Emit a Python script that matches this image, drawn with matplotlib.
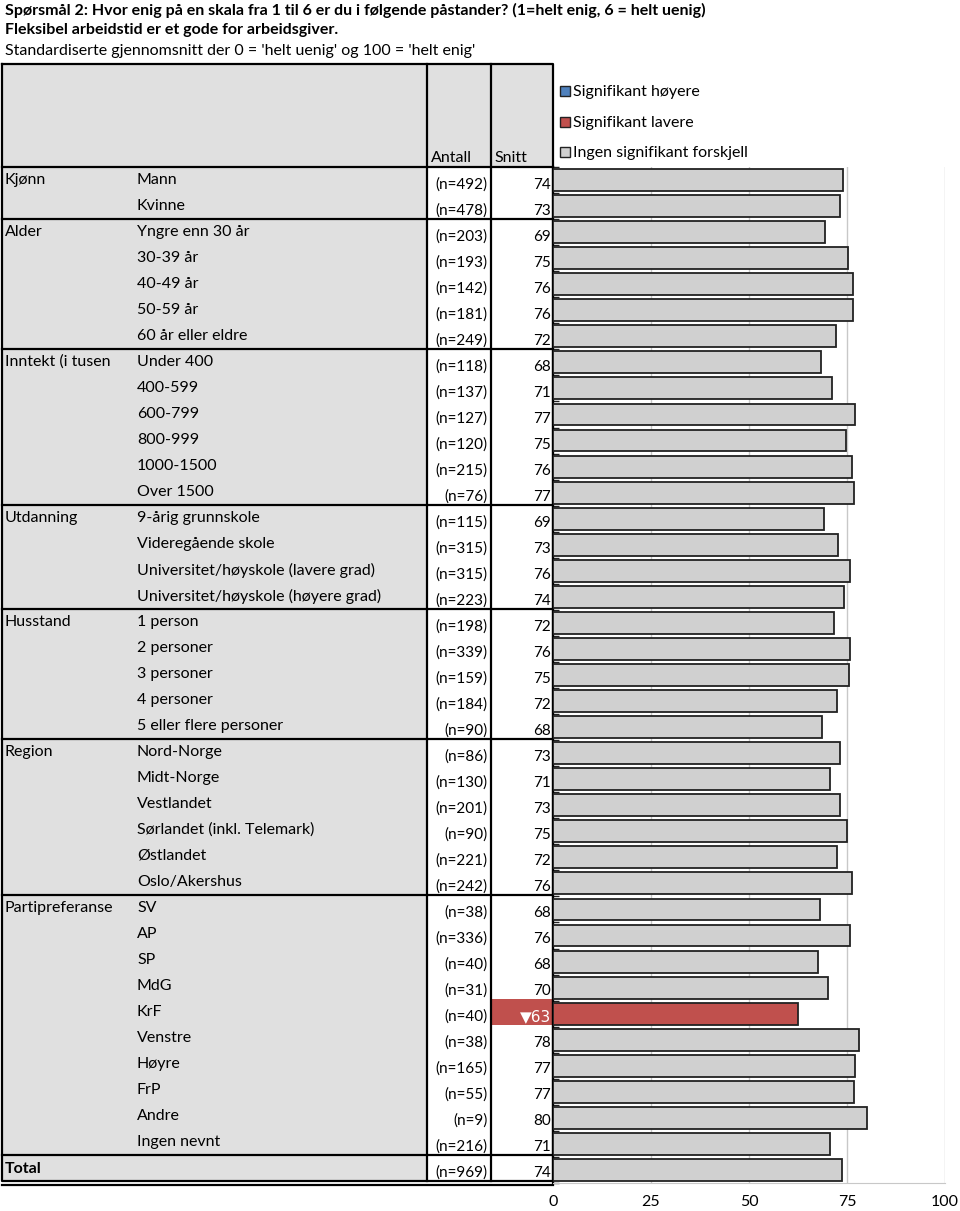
import matplotlib
matplotlib.use('Agg')
import matplotlib.pyplot as plt
from matplotlib.patches import Rectangle

plt.rcParams['font.family'] = ['Lato', 'DejaVu Sans']

# data
group_names = ['Kjønn', 'Alder', 'Inntekt (i tusen', 'Utdanning', 'Husstand', 'Region', 'Partipreferanse']
group_sizes = [2, 5, 6, 4, 5, 6, 10]

labels = ['Mann', 'Kvinne',
          'Yngre enn 30 år', '30-39 år', '40-49 år', '50-59 år', '60 år eller eldre',
          'Under 400', '400-599', '600-799', '800-999', '1000-1500', 'Over 1500',
          '9-årig grunnskole', 'Videregående skole', 'Universitet/høyskole (lavere grad)',
          'Universitet/høyskole (høyere grad)',
          '1 person', '2 personer', '3 personer', '4 personer', '5 eller flere personer',
          'Nord-Norge', 'Midt-Norge', 'Vestlandet', 'Sørlandet (inkl. Telemark)', 'Østlandet', 'Oslo/Akershus',
          'SV', 'AP', 'SP', 'MdG', 'KrF', 'Venstre', 'Høyre', 'FrP', 'Andre', 'Ingen nevnt',
          'Total']
antall = [492, 478,
          203, 193, 142, 181, 249,
          118, 137, 127, 120, 215, 76,
          115, 315, 315, 223,
          198, 339, 159, 184, 90,
          86, 130, 201, 90, 221, 242,
          38, 336, 40, 31, 40, 38, 165, 55, 9, 216,
          969]
snitt = [74, 73,
         69, 75, 76, 76, 72,
         68, 71, 77, 75, 76, 77,
         69, 73, 76, 74,
         72, 76, 75, 72, 68,
         73, 71, 73, 75, 72, 76,
         68, 76, 68, 70, 63, 78, 77, 77, 80, 71,
         74]
bar_values = [74.0, 73.2,
              69.4, 75.3, 76.5, 76.5, 72.2,
              68.4, 71.2, 77.0, 74.7, 76.3, 76.8,
              69.1, 72.7, 75.8, 74.2,
              71.7, 75.8, 75.5, 72.4, 68.6,
              73.2, 70.7, 73.2, 75.0, 72.4, 76.3,
              68.1, 75.8, 67.6, 70.2, 62.5, 78.1, 77.0, 76.8, 80.1, 70.7,
              73.7]
# 0 = ingen forskjell, 1 = høyere, -1 = lavere
signif = [0] * len(labels)
signif[labels.index('KrF')] = -1

col_none = '#d0d0d0'
col_high = '#4f81bd'
col_low = '#c0504d'
edge = '#222222'

W, H = 960, 1211
fig = plt.figure(figsize=(W / 100, H / 100), dpi=100)
tab = fig.add_axes([0, 0, 1, 1])
tab.set_xlim(0, W)
tab.set_ylim(H, 0)
tab.axis('off')

# titles
fs = 11.5
tab.text(5, 10, 'Spørsmål 2: Hvor enig på en skala fra 1 til 6 er du i følgende påstander? (1=helt enig, 6 = helt uenig)',
         fontsize=fs, fontweight='bold', va='center', ha='left')
tab.text(5, 30, 'Fleksibel arbeidstid er et gode for arbeidsgiver.',
         fontsize=fs, fontweight='bold', va='center', ha='left')
tab.text(5, 51, "Standardiserte gjennomsnitt der 0 = 'helt uenig' og 100 = 'helt enig'",
         fontsize=fs, va='center', ha='left')

x0, xa, xs, x1 = 2, 427, 491, 553
top_hdr, y_first, pitch = 64, 167, 26
n_rows = len(labels)
y_last = y_first + pitch * n_rows
gray_bg = '#e0e0e0'

# backgrounds
tab.add_patch(Rectangle((x0, top_hdr), x1 - x0, y_first - top_hdr, fc=gray_bg, ec='none'))
tab.add_patch(Rectangle((x0, y_first), xa - x0, y_last - y_first, fc=gray_bg, ec='none'))
for i in range(n_rows):
    if signif[i] != 0:
        c = col_low if signif[i] < 0 else col_high
        tab.add_patch(Rectangle((xs, y_first + pitch * i), x1 - xs, pitch, fc=c, ec='none'))

# header
tab.text(431, 158, 'Antall', fontsize=fs, va='center', ha='left')
tab.text(494, 158, 'Snitt', fontsize=fs, va='center', ha='left')

# grid lines of the table
lw_t = 1.6
tab.plot([x0, x1, x1, x0, x0], [top_hdr, top_hdr, y_last, y_last, top_hdr], color='black', lw=lw_t)
tab.plot([xa, xa], [top_hdr, y_last], color='black', lw=lw_t)
tab.plot([xs, xs], [top_hdr, y_last], color='black', lw=lw_t)
tab.plot([x0, x1], [y_last + 4, y_last + 4], color='black', lw=lw_t)
starts = [0]
for s in group_sizes:
    starts.append(starts[-1] + s)
for s in starts:
    yy = y_first + pitch * s
    tab.plot([x0, x1], [yy, yy], color='black', lw=lw_t)

# group names
for name, s in zip(group_names, starts):
    tab.text(5, y_first + pitch * s + 13, name, fontsize=fs, va='center', ha='left')

# rows
for i, (lab, n, v) in enumerate(zip(labels, antall, snitt)):
    yc = y_first + pitch * i + 13
    if lab == 'Total':
        tab.text(5, yc + 1, lab, fontsize=fs, fontweight='bold', va='center', ha='left')
    else:
        tab.text(137, yc, lab, fontsize=fs, va='center', ha='left')
    tab.text(488, yc + 5, f'(n={n})', fontsize=fs - 0.5, va='center', ha='right')
    if signif[i] < 0:
        tab.text(551, yc + 5, '▼' + str(v), fontsize=fs - 0.5, va='center', ha='right',
                 color='white', family=['DejaVu Sans'])
    else:
        tab.text(551, yc + 5, str(v), fontsize=fs - 0.5, va='center', ha='right')

# bar chart
ax = fig.add_axes([x1 / W, 1 - (y_last + 2) / H, (945 - x1) / W, (y_last + 2 - y_first) / H])
colors = [col_low if s < 0 else (col_high if s > 0 else col_none) for s in signif]
ax.barh(range(n_rows), bar_values, height=0.84, color=colors, edgecolor=edge, linewidth=1.3, zorder=3)
ax.set_xlim(0, 100)
ax.set_ylim(n_rows - 0.5, -0.5)
ax.set_xticks([0, 25, 50, 75, 100])
ax.set_xticklabels(['0', '25', '50', '75', '100'], fontsize=fs)
ax.tick_params(axis='x', length=0, pad=9)
ax.set_yticks([i - 0.5 for i in range(n_rows + 1)])
ax.set_yticklabels([])
ax.tick_params(axis='y', direction='in', length=4, width=1, color=edge)
ax.grid(axis='x', color='#c8c8c8', lw=1, zorder=0)
for side in ['top', 'right']:
    ax.spines[side].set_visible(False)
ax.spines['bottom'].set_color('#c8c8c8')
ax.spines['left'].set_color('black')
ax.spines['left'].set_linewidth(lw_t)

# legend
leg_items = [('Signifikant høyere', col_high), ('Signifikant lavere', col_low),
             ('Ingen signifikant forskjell', col_none)]
for k, (txt, c) in enumerate(leg_items):
    yy = 91 + 30.5 * k
    tab.add_patch(Rectangle((560, yy - 5), 10, 10, fc=c, ec=edge, lw=1))
    tab.text(573, yy + 1, txt, fontsize=fs, va='center', ha='left')

fig.savefig('out.png', dpi=100)
